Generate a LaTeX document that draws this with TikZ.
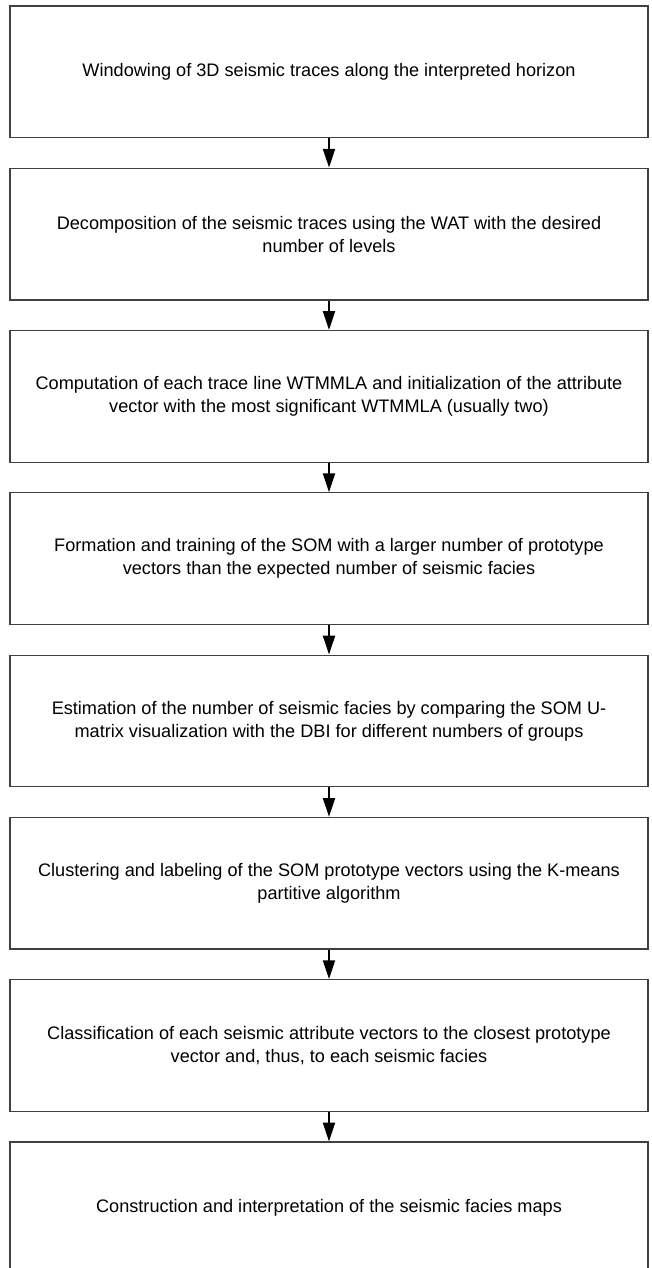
\documentclass[tikz,border=0pt]{standalone}
\usepackage{fontspec}
\setmainfont{Liberation Sans}
\usepackage{tikz}
\usetikzlibrary{arrows.meta}
\tikzset{
  stepbox/.style={ draw=black!75, line width=0.9pt, rectangle, align=center,
    minimum width=15.95cm, minimum height=3.29cm, inner sep=0pt,
    font=\fontsize{12.9}{16.4}\selectfont }
}
\tikzset{
  flow/.style={ line width=1.4pt, -{Triangle[length=0.47cm, width=0.3cm]} }
}

\begin{document}
\begin{tikzpicture}[x=0.025cm, y=-0.025cm]
      \useasboundingbox (0, 0) rectangle (651, 1268);
      \node[stepbox] (windowing) at (329, 71.75) {Windowing of 3D seismic traces along the interpreted horizon};
      \node[stepbox] (decomposition) at (329, 234.05) {Decomposition of the seismic traces using the WAT with the desired\\number of levels};
      \node[stepbox] (computation) at (329, 396.35) {Computation of each trace line WTMMLA and initialization of the attribute\\vector with the most significant WTMMLA (usually two)};
      \node[stepbox] (formation) at (329, 558.65) {Formation and training of the SOM with a larger number of prototype\\vectors than the expected number of seismic facies};
      \node[stepbox] (estimation) at (329, 720.95) {Estimation of the number of seismic facies by comparing the SOM U-\\matrix visualization with the DBI for different numbers of groups};
      \node[stepbox] (clustering) at (329, 883.25) {Clustering and labeling of the SOM prototype vectors using the K-means\\partitive algorithm};
      \node[stepbox] (classification) at (329, 1045.55) {Classification of each seismic attribute vectors to the closest prototype\\vector and, thus, to each seismic facies};
      \node[stepbox] (construction) at (329, 1207.85) {Construction and interpretation of the seismic facies maps};

      \draw[flow] (windowing) -- (decomposition);
      \draw[flow] (decomposition) -- (computation);
      \draw[flow] (computation) -- (formation);
      \draw[flow] (formation) -- (estimation);
      \draw[flow] (estimation) -- (clustering);
      \draw[flow] (clustering) -- (classification);
      \draw[flow] (classification) -- (construction);
    \end{tikzpicture}
\end{document}
